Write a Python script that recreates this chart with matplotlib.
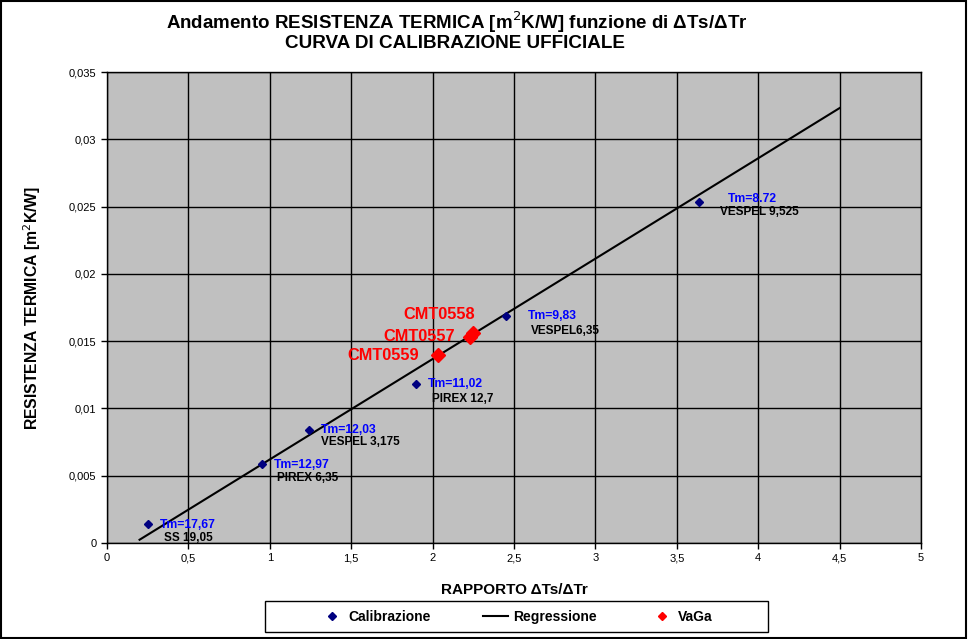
import numpy as np
import matplotlib.pyplot as plt
from matplotlib.patches import Rectangle

plt.rcParams['font.family'] = ['Liberation Sans', 'DejaVu Sans']

# calibration points
cal_x = [0.252, 0.952, 1.241, 1.898, 2.451, 3.636]
cal_y = [0.00141, 0.00587, 0.0084, 0.01181, 0.01686, 0.02533]
cal_tm = ['Tm=17,67', 'Tm=12,97', 'Tm=12,03', 'Tm=11,02', 'Tm=9,83', 'Tm=8.72']
cal_name = ['SS 19,05', 'PIREX 6,35', 'VESPEL 3,175', 'PIREX 12,7', 'VESPEL6,35', 'VESPEL 9,525']
# label offsets in pixels (tm label, name label)
tm_off = [(12, -1), (12, -1), (12, 0), (12, 0), (22, 0), (29, 3)]
name_off = [(16, -14), (15, -14), (12, -12), (16, -15), (25, -15), (21, -10)]

# regression line
reg_x = [0.2, 4.5]
slope = 0.00746
intercept = -0.00125

# VaGa points
vaga_x = [2.248, 2.23, 2.033]
vaga_y = [0.0156, 0.0153, 0.01397]
vaga_name = ['CMT0558', 'CMT0557', 'CMT0559']
vaga_off = [(2, 19), (-15, 1), (-19, 0)]

xticks = [0, 0.5, 1, 1.5, 2, 2.5, 3, 3.5, 4, 4.5, 5]
yticks = [0, 0.005, 0.01, 0.015, 0.02, 0.025, 0.03, 0.035]

fig = plt.figure(figsize=(9.68, 6.39), dpi=100)
ax = fig.add_axes([107/968, 1-543/639, (921-107)/968, (543-72)/639])
ax.set_facecolor('#C0C0C0')

ax.plot(cal_x, cal_y, 'D', color='#000080', ms=4.3, ls='none', label='Calibrazione', zorder=3)
rx = np.array(reg_x)
ax.plot(rx, slope*rx + intercept, color='black', lw=1.5, label='Regressione', zorder=2)
ax.plot(vaga_x, vaga_y, 'D', color='#FF0000', ms=7.5, ls='none', label='VaGa', zorder=4)

for i in range(len(cal_x)):
    ax.annotate(cal_tm[i], (cal_x[i], cal_y[i]), xytext=tm_off[i], textcoords='offset pixels',
                color='#0000FF', fontsize=8.7, fontweight='bold', va='center', ha='left')
    ax.annotate(cal_name[i], (cal_x[i], cal_y[i]), xytext=name_off[i], textcoords='offset pixels',
                color='black', fontsize=8.5, fontweight='bold', va='center', ha='left')
for i in range(len(vaga_x)):
    ax.annotate(vaga_name[i], (vaga_x[i], vaga_y[i]), xytext=vaga_off[i], textcoords='offset pixels',
                color='#FF0000', fontsize=11.8, fontweight='bold', va='center', ha='right')

ax.set_xlim(0, 5)
ax.set_ylim(0, 0.035)
ax.set_xticks(xticks)
ax.set_yticks(yticks)
ax.set_xticklabels([('%g' % t).replace('.', ',') for t in xticks], fontsize=8)
ax.set_yticklabels([('%g' % t).replace('.', ',') for t in yticks], fontsize=8)
ax.grid(True, color='black', lw=1)
ax.set_axisbelow(True)
for s in ax.spines.values():
    s.set_color('black')
    s.set_linewidth(1)
ax.tick_params(direction='out', length=4, width=1, color='black')

ax.set_xlabel('RAPPORTO ΔTs/ΔTr', fontsize=11, fontweight='bold', labelpad=14)
ax.set_ylabel('RESISTENZA TERMICA [m$^2$K/W]', fontsize=11.3, fontweight='bold', labelpad=19)

# title sits a bit left of the plot centre, as in the original
fig.text(457/968, 1-22/639, 'Andamento RESISTENZA TERMICA [m$^2$K/W] funzione di ΔTs/ΔTr',
         ha='center', va='center', fontsize=13.5, fontweight='bold')
fig.text(455/968, 1-43/639, 'CURVA DI CALIBRAZIONE UFFICIALE',
         ha='center', va='center', fontsize=13.6, fontweight='bold')

# legend: frame drawn separately, wider than content as in the original
leg = fig.legend(loc='center', bbox_to_anchor=(516/968, 1-617/639), ncol=3,
                 frameon=False, prop={'weight': 'bold', 'size': 10},
                 columnspacing=3.8, handlelength=1.8, handletextpad=0.3)
for h in leg.legend_handles:
    h.set_markersize(4.3)
fig.patches.append(Rectangle((265/968, 1-632/639), 503/968, 31/639, transform=fig.transFigure,
                             fill=False, edgecolor='black', lw=1))

fig.patches.append(Rectangle((0.001, 0.001), 0.997, 0.997, transform=fig.transFigure,
                             fill=False, edgecolor='black', lw=1.5))

fig.savefig('out.png', dpi=100)
